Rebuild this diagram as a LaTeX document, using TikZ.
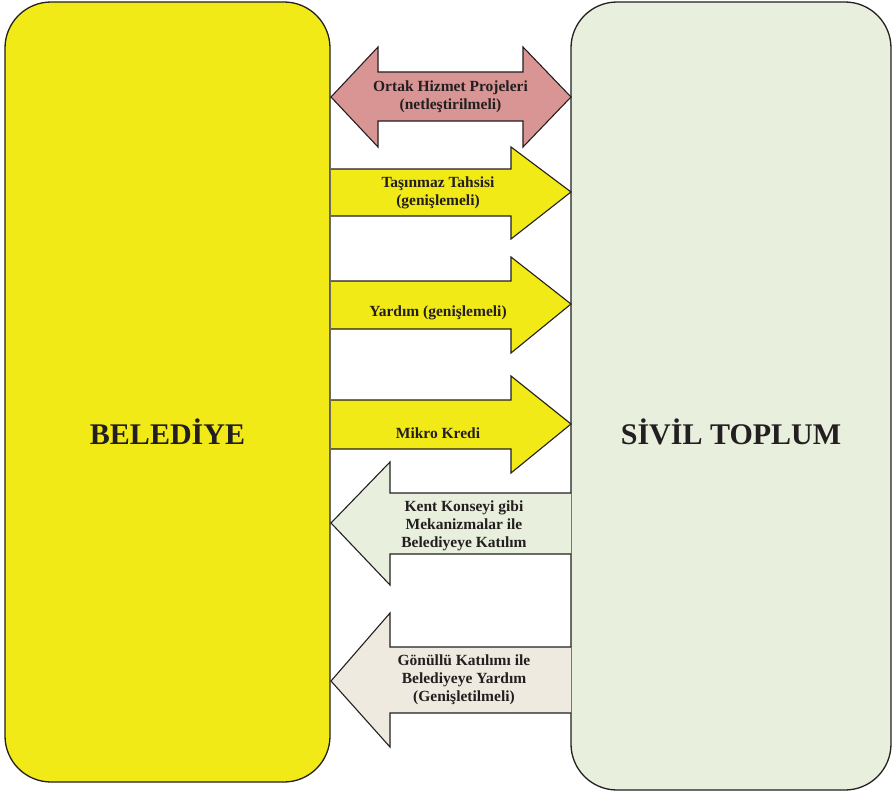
\documentclass[tikz,border=0pt]{standalone}
\usepackage{fontspec}
\setmainfont{Liberation Serif}
\definecolor{byellow}{HTML}{F2EA17}
\definecolor{sgreen}{HTML}{E8F0DD}
\definecolor{apink}{HTML}{D99594}
\definecolor{abeige}{HTML}{EEEAE0}
\definecolor{tdark}{HTML}{231F20}
\begin{document}
\begin{tikzpicture}[x=1pt,y=-1pt,
  bigbox/.style={draw=tdark,line width=1.3pt,rounded corners=46pt,inner sep=0pt},
  arrowshape/.style={draw=tdark,line width=1.1pt,line join=miter},
  arrtext/.style={text=tdark,font=\bfseries\fontsize{15.5}{18}\selectfont,align=center,inner sep=0pt},
  bigtext/.style={text=tdark,font=\bfseries\fontsize{30}{36}\selectfont,inner sep=0pt}]
\useasboundingbox (0,0) rectangle (892,792);
% boxes
\node[bigbox,fill=byellow,minimum width=325pt,minimum height=780pt] (bel) at (167.5,392) {};
\node[bigbox,fill=sgreen,minimum width=320pt,minimum height=788pt] (siv) at (731,396) {};
\node[bigtext] (belt) at (167.5,432) {BELEDİYE};
\node[bigtext] (sivt) at (731,432) {SİVİL TOPLUM};
% double arrow
\draw[arrowshape,fill=apink] (331,97) -- (378,47) -- (378,72) -- (523,72) -- (523,47) -- (571,97) -- (523,147) -- (523,121) -- (378,121) -- (378,147) -- cycle;
\node[arrtext] (a1) at (450.5,97) {Ortak Hizmet Projeleri\\(netleştirilmeli)};
% right arrows
\draw[arrowshape,fill=byellow] (331,169) -- (511,169) -- (511,147) -- (571,192) -- (511,239) -- (511,216) -- (331,216);
\node[arrtext] (a2) at (438,193) {Taşınmaz Tahsisi\\(genişlemeli)};
\draw[arrowshape,fill=byellow] (331,281) -- (511,281) -- (511,257) -- (571,304) -- (511,353) -- (511,329) -- (331,329);
\node[arrtext] (a3) at (438,313) {Yardım (genişlemeli)};
\draw[arrowshape,fill=byellow] (331,400) -- (511,400) -- (511,376) -- (571,424) -- (511,473) -- (511,449) -- (331,449);
\node[arrtext] (a4) at (438,433) {Mikro Kredi};
% left arrows
\draw[arrowshape,fill=sgreen] (571,493) -- (390,493) -- (390,462) -- (331,523) -- (390,585) -- (390,554) -- (571,554);
\node[arrtext] (a5) at (464,526) {Kent Konseyi gibi\\Mekanizmalar ile\\Belediyeye Katılım};
\draw[arrowshape,fill=abeige] (571,647) -- (390,647) -- (390,613) -- (331,681) -- (390,747) -- (390,713) -- (571,713);
\node[arrtext] (a6) at (464,680) {Gönüllü Katılımı ile\\Belediyeye Yardım\\(Genişletilmeli)};
\end{tikzpicture}
\end{document}
